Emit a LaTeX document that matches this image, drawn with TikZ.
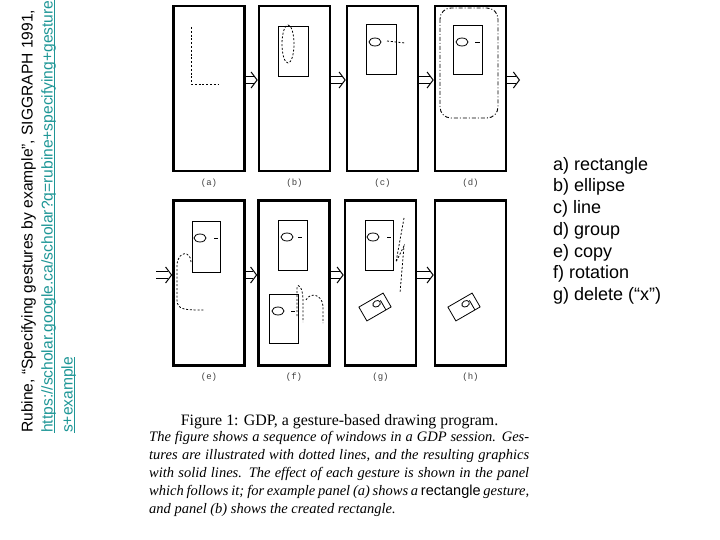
\documentclass[tikz,border=0pt]{standalone}
\usepackage{fontspec}
\setmainfont{Liberation Serif}
\newfontfamily\arialfont{Liberation Sans}
\newfontfamily\labelfont{Liberation Mono}
\usepackage{xcolor}
\usepackage{tikz}
\usetikzlibrary{arrows.meta,positioning}
\definecolor{linkteal}{RGB}{30,150,150}
\newcommand\linkline[1]{\textcolor{linkteal}{\setbox0\hbox{#1}\rlap{\rule[-2.4pt]{\wd0}{1.1pt}}\box0}}

\begin{document}
\begin{tikzpicture}[
    x=1pt, y=-1pt,
    node distance=5pt,
    panel/.style={draw, line width=2.6pt, minimum width=71pt, minimum height=165pt, inner sep=0pt},
    plabel/.style={font=\labelfont\fontsize{9}{10}\selectfont, text=black!75, inner sep=1pt},
    obj/.style={line width=0.8pt},
    gest/.style={line width=0.8pt, dash pattern=on 2pt off 1.8pt},
    group/.style={line width=0.9pt, dash pattern=on 4pt off 2pt on 1pt off 2pt, rounded corners=11pt},
    flow/.style={draw=black, line width=7.2pt, shorten >=4pt,
      postaction={draw=white, line width=5.2pt},
      postaction={draw=black, line width=1pt, shorten >=0pt,
        dash pattern=on 0pt off 200pt, -{Straight Barb[length=6pt, width=16pt]}}}
  ]
    \useasboundingbox (0,0) rectangle (720,540);

    % source, rotated
    \node[rotate=90, anchor=north west, align=left, inner sep=0pt,
          font=\arialfont\fontsize{15.6}{20}\selectfont] (src) at (21,433)
      {Rubine, “Specifying gestures by example”, SIGGRAPH 1991,\\
       \linkline{https://scholar.google.ca/scholar?q=rubine+specifying+gesture}\\
       \linkline{s+example}};

    % panels
    \node[panel] (pa) at (209,88.5) {};
    \node[panel] (pb) at (294.5,88.5) {};
    \node[panel] (pc) at (382.5,88.5) {};
    \node[panel] (pd) at (470.5,88.5) {};
    \node[panel] (pe) at (209,283) {};
    \node[panel] (pf) at (294,283) {};
    \node[panel] (pg) at (380.5,283) {};
    \node[panel] (ph) at (470.5,283) {};

    \node[plabel, below=of pa] (la) {(a)};
    \node[plabel, below=of pb] (lb) {(b)};
    \node[plabel, below=of pc] (lc) {(c)};
    \node[plabel, below=of pd] (ld) {(d)};
    \node[plabel, below=of pe] (le) {(e)};
    \node[plabel, below=of pf] (lf) {(f)};
    \node[plabel, below=of pg] (lg) {(g)};
    \node[plabel, below=of ph] (lh) {(h)};

    \coordinate (dout) at (520,80);
    \coordinate (ein) at (156,275);
    \draw[flow] ([yshift=8.5pt]pa.east) -- ([yshift=8.5pt]pb.west);
    \draw[flow] ([yshift=8.5pt]pb.east) -- ([yshift=8.5pt]pc.west);
    \draw[flow] ([yshift=8.5pt]pc.east) -- ([yshift=8.5pt]pd.west);
    \draw[flow] ([yshift=8.5pt]pd.east) -- (dout);
    \draw[flow] (ein) -- ([yshift=8pt]pe.west);
    \draw[flow] ([yshift=8pt]pe.east) -- ([yshift=8pt]pf.west);
    \draw[flow] ([yshift=8pt]pf.east) -- ([yshift=8pt]pg.west);
    \draw[flow] ([yshift=8pt]pg.east) -- ([yshift=8pt]ph.west);

    % (a) rectangle gesture
    \draw[gest] (191,27) -- (191,84) -- (219,84);
    % (b) ellipse gesture
    \draw[obj] (278,26) rectangle (308,76);
    \draw[gest] (288,44) ellipse [x radius=6pt, y radius=19pt];
    % (c) line gesture
    \draw[obj] (366,24) rectangle (396,74);
    \draw[obj] (375,42) ellipse [x radius=6pt, y radius=4pt];
    \draw[gest] (387,41) -- (405,43);
    % (d) group gesture
    \draw[obj] (453,25) rectangle (482,74);
    \draw[obj] (462,42) ellipse [x radius=6pt, y radius=4pt];
    \draw[obj] (475,42) -- (480,42);
    \draw[group] (440,8) rectangle (498,118);
    % (e) copy gesture
    \draw[obj] (192,221) rectangle (220,272);
    \draw[obj] (200,238) ellipse [x radius=6pt, y radius=4pt];
    \draw[obj] (214,238) -- (218,238);
    \draw[gest] (191,262) .. controls (191,251) and (178,250) .. (177,265)
      -- (177,300) .. controls (177,310) and (185,310) .. (205,310);
    % (f) rotation gesture
    \draw[obj] (278,220) rectangle (307,270);
    \draw[obj] (287,237) ellipse [x radius=6pt, y radius=4pt];
    \draw[obj] (298,237) -- (302,237);
    \draw[obj] (269,294) rectangle (298,343);
    \draw[obj] (278,311) ellipse [x radius=6pt, y radius=4pt];
    \draw[obj] (291,311) -- (295,311);
    \draw[gest] (297,316) -- (297,288) .. controls (298,282) and (303,288) .. (303,300) -- (303,322);
    \draw[gest] (306,300) .. controls (310,292) and (322,294) .. (323,306) -- (323,323);
    % (g) delete gesture
    \draw[obj] (365,220) rectangle (393,270);
    \draw[obj] (373,237) ellipse [x radius=6pt, y radius=4pt];
    \draw[obj] (387,237) -- (391,237);
    \draw[gest] (404,218) -- (396,262) -- (404,246) -- (400,293);
    \begin{scope}[shift={(375,307)}, rotate=30]
      \draw[obj] (-14,-8) rectangle (14,8);
      \draw[obj] (3,-2) ellipse [x radius=4pt, y radius=3pt];
      \draw[obj] (8,-3) -- (8,8);
    \end{scope}
    % (h)
    \begin{scope}[shift={(464,307)}, rotate=30]
      \draw[obj] (-14,-8) rectangle (14,8);
      \draw[obj] (3,-2) ellipse [x radius=4pt, y radius=3pt];
      \draw[obj] (8,-3) -- (8,8);
    \end{scope}

    % caption
    \node[anchor=base, font=\fontsize{15.9}{18}\selectfont] (cap) at (339.5,425)
      {Figure 1: GDP, a gesture-based drawing program.};
    \node[anchor=north west, inner sep=0pt] (capbody) at (149,431)
      {\parbox[t]{380pt}{\fontsize{14.5}{18}\selectfont\itshape
       The figure shows a sequence of windows in a GDP session. Ges-\linebreak
       tures are illustrated with dotted lines, and the resulting graphics\linebreak
       with solid lines. The effect of each gesture is shown in the panel\linebreak
       which follows it; for example panel (a) shows a {\upshape\arialfont rectangle} gesture,\linebreak
       and panel (b) shows the created rectangle.}};

    % key
    \node[anchor=north west, align=left, inner sep=0pt,
          font=\arialfont\fontsize{18}{21.7}\selectfont] (keys) at (553,157)
      {a) rectangle\\ b) ellipse\\ c) line\\ d) group\\ e) copy\\ f) rotation\\ g) delete (“x”)};
  \end{tikzpicture}
\end{document}
